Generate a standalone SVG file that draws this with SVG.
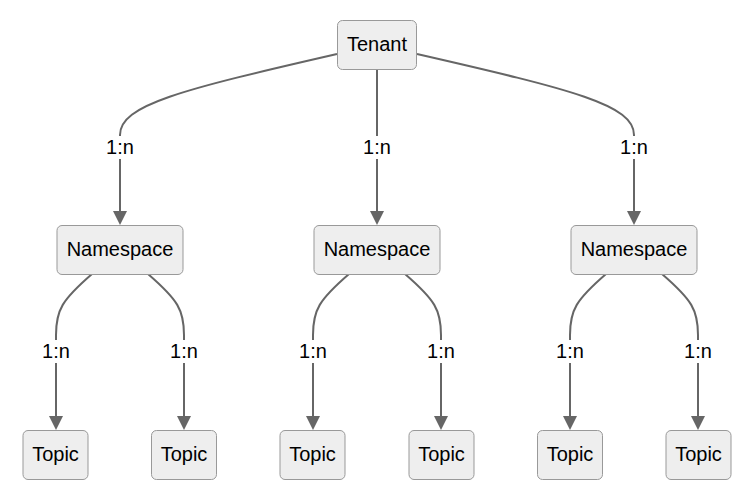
<svg xmlns="http://www.w3.org/2000/svg" width="751" height="496" viewBox="0 0 751 496">
<defs>
<style>
.node rect{fill:#eeeeee;stroke:#999999;stroke-width:1}
.node text,.lbl text{font-family:"Liberation Sans",Arial,sans-serif;font-size:20px;fill:#000;text-anchor:middle;dominant-baseline:central}
.edge{fill:none;stroke:#666666;stroke-width:2}
.lbl rect{fill:#ffffff}
</style>
<marker id="arr" viewBox="0 0 14 14" refX="0" refY="7" markerWidth="14" markerHeight="14" markerUnits="userSpaceOnUse" orient="auto">
<path d="M0,0 L14,7 L0,14 Z" fill="#666666"/>
</marker>
</defs>
<rect width="751" height="496" fill="#ffffff"/>
<g id="edges">
<path class="edge" d="M337,54 C180,90 120,105 120,135 L120,211" marker-end="url(#arr)"/>
<path class="edge" d="M377,69 L377,211" marker-end="url(#arr)"/>
<path class="edge" d="M417,54 C574,90 634,105 634,135 L634,211" marker-end="url(#arr)"/>
<path class="edge" d="M92,274 C62,300 56,310 56,335 L56,416" marker-end="url(#arr)"/>
<path class="edge" d="M148,274 C178,300 184,310 184,335 L184,416" marker-end="url(#arr)"/>
<path class="edge" d="M349,274 C319,300 313,310 313,335 L313,416" marker-end="url(#arr)"/>
<path class="edge" d="M405,274 C435,300 441,310 441,335 L441,416" marker-end="url(#arr)"/>
<path class="edge" d="M606,274 C576,300 570,310 570,335 L570,416" marker-end="url(#arr)"/>
<path class="edge" d="M662,274 C692,300 698,310 698,335 L698,416" marker-end="url(#arr)"/>
<g class="lbl">
<rect x="104" y="136" width="32" height="23"/><text x="120" y="147">1:n</text>
<rect x="361" y="136" width="32" height="23"/><text x="377" y="147">1:n</text>
<rect x="618" y="136" width="32" height="23"/><text x="634" y="147">1:n</text>
<rect x="40" y="340" width="32" height="23"/><text x="56" y="351">1:n</text>
<rect x="168" y="340" width="32" height="23"/><text x="184" y="351">1:n</text>
<rect x="297" y="340" width="32" height="23"/><text x="313" y="351">1:n</text>
<rect x="425" y="340" width="32" height="23"/><text x="441" y="351">1:n</text>
<rect x="554" y="340" width="32" height="23"/><text x="570" y="351">1:n</text>
<rect x="682" y="340" width="32" height="23"/><text x="698" y="351">1:n</text>
</g>
</g>
<g id="tenant" class="node"><rect x="337.5" y="20.5" width="79" height="49" rx="5"/><text x="377" y="44">Tenant</text></g>
<g id="ns1" class="node"><rect x="57" y="225.5" width="126" height="49" rx="5"/><text x="120" y="249">Namespace</text></g>
<g id="ns2" class="node"><rect x="314" y="225.5" width="126" height="49" rx="5"/><text x="377" y="249">Namespace</text></g>
<g id="ns3" class="node"><rect x="571" y="225.5" width="126" height="49" rx="5"/><text x="634" y="249">Namespace</text></g>
<g id="t1" class="node"><rect x="23" y="430.5" width="65" height="49" rx="5"/><text x="55.5" y="454">Topic</text></g>
<g id="t2" class="node"><rect x="151.5" y="430.5" width="65" height="49" rx="5"/><text x="184" y="454">Topic</text></g>
<g id="t3" class="node"><rect x="280" y="430.5" width="65" height="49" rx="5"/><text x="312.5" y="454">Topic</text></g>
<g id="t4" class="node"><rect x="409" y="430.5" width="65" height="49" rx="5"/><text x="441.5" y="454">Topic</text></g>
<g id="t5" class="node"><rect x="537.5" y="430.5" width="65" height="49" rx="5"/><text x="570" y="454">Topic</text></g>
<g id="t6" class="node"><rect x="666" y="430.5" width="65" height="49" rx="5"/><text x="698.5" y="454">Topic</text></g>
</svg>
